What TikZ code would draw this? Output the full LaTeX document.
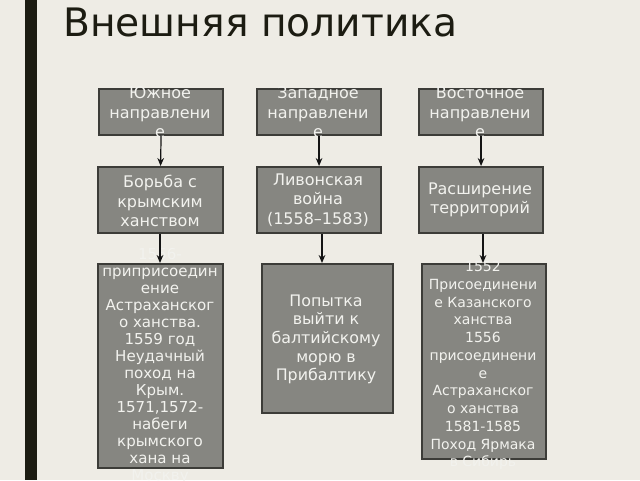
\documentclass[tikz,border=0pt]{standalone}
\usepackage{fontspec}
\setmainfont{DejaVu Sans}
\usetikzlibrary{arrows.meta}
\begin{document}
\begin{tikzpicture}[x=0.75pt,y=-0.75pt,
  boxst/.style={draw=boxline,fill=boxfill,line width=1.6pt,inner sep=0pt,anchor=north west},
  txt/.style={text=boxtext,align=center,inner sep=0pt,font=\fontsize{12}{14.5}\selectfont},
  txtl/.style={text=boxtext,align=center,inner sep=0pt,font=\fontsize{11.3}{12.8}\selectfont},
  txtm/.style={text=boxtext,align=center,inner sep=0pt,font=\fontsize{11.9}{14}\selectfont},
  txtr/.style={text=boxtext,align=center,inner sep=0pt,font=\fontsize{10.5}{13.3}\selectfont},
  arr/.style={-{Stealth[length=6pt,width=5pt]},line width=0.9pt,draw=arrowc}]
\definecolor{bg}{RGB}{238,236,229}
\definecolor{boxfill}{RGB}{134,134,129}
\definecolor{boxline}{RGB}{60,60,56}
\definecolor{boxtext}{RGB}{242,242,238}
\definecolor{barc}{RGB}{28,28,18}
\definecolor{arrowc}{RGB}{20,20,20}
\useasboundingbox (0,0) rectangle (640,480);
\fill[bg] (0,0) rectangle (640,480);
\fill[barc] (25,0) rectangle (37,480);
\node[anchor=base west,inner sep=0pt,text=barc,font=\fontsize{29.4}{34}\selectfont] (title) at (63,36) {Внешняя политика};
% top row
\node[boxst,minimum width=124*0.75pt,minimum height=46*0.75pt] (s1) at (98,88) {};
\node[boxst,minimum width=124*0.75pt,minimum height=46*0.75pt] (w1) at (256,88) {};
\node[boxst,minimum width=124*0.75pt,minimum height=46*0.75pt] (e1) at (418,88) {};
% second row
\node[boxst,minimum width=125*0.75pt,minimum height=66*0.75pt] (s2) at (97,166) {};
\node[boxst,minimum width=124*0.75pt,minimum height=66*0.75pt] (w2) at (256,166) {};
\node[boxst,minimum width=124*0.75pt,minimum height=66*0.75pt] (e2) at (418,166) {};
% third row
\node[boxst,minimum width=125*0.75pt,minimum height=204*0.75pt] (s3) at (97,263) {};
\node[boxst,minimum width=131*0.75pt,minimum height=149*0.75pt] (w3) at (261,263) {};
\node[boxst,minimum width=124*0.75pt,minimum height=195*0.75pt] (e3) at (421,263) {};
% texts
\node[txt] (t1) at (160,112.5) {Южное\\направлени\\е};
\node[txt] (t2) at (318,112.5) {Западное\\направлени\\е};
\node[txt] (t3) at (480,112.5) {Восточное\\направлени\\е};
\node[txt] (t4) at (160,201) {Борьба с\\крымским\\ханством};
\node[txt] (t5) at (318,200) {Ливонская\\война\\(1558–1583)};
\node[txt] (t6) at (480,200) {Расширение\\территорий};
\node[txtl] (t7) at (160,366) {1556-\\приприсоедин\\ение\\Астраханског\\о ханства.\\1559 год\\Неудачный\\поход на\\Крым.\\1571,1572-\\набеги\\крымского\\хана на\\Москву};
\node[txtm] (t8) at (326,339.5) {Попытка\\выйти к\\балтийскому\\морю в\\Прибалтику};
\node[txtr] (t9) at (483,365.5) {1552\\Присоединени\\е Казанского\\ханства\\1556\\присоединени\\е\\Астраханског\\о ханства\\1581-1585\\Поход Ярмака\\в Сибирь};
% arrows
\draw[arr] (s1.south) -- (s2.north);
\draw[arr] (w1.south) -- (w2.north);
\draw[arr] (e1.south) -- (e2.north);
\draw[arr] (s2.south -| 160,0) -- (s3.north -| 160,0);
\draw[arr] (w2.south -| 322,0) -- (w3.north -| 322,0);
\draw[arr] (e2.south -| 483,0) -- (e3.north -| 483,0);
\end{tikzpicture}
\end{document}
